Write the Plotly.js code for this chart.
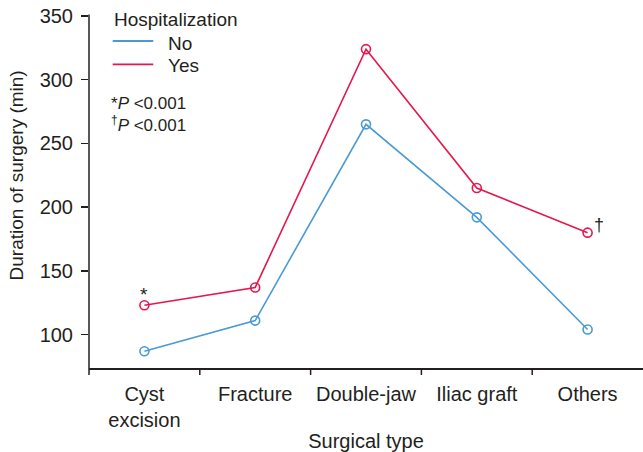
<!DOCTYPE html>
<html><head><meta charset="utf-8">
<script src="https://cdn.plot.ly/plotly-3.0.1.min.js"></script>
<style>html,body{margin:0;padding:0;background:#fff;}#chart{width:643px;height:452px;}</style>
</head><body><div id="chart"></div>
<script>
const categories = ["Cyst<br>excision", "Fracture", "Double-jaw", "Iliac graft", "Others"];
const noValues = [87, 111, 265, 192, 104];
const yesValues = [123, 137, 324, 215, 180];
const yTicks = [100, 150, 200, 250, 300, 350];
const seriesNames = ["No", "Yes"];

const blue = "#4a9ad4";
const red = "#e4184c";
const ink = "#231f20";
const font = "Liberation Sans, Arial, sans-serif";
const xIdx = categories.map((_, i) => i);

const traces = [
  {x: xIdx, y: noValues, type: "scatter", mode: "lines+markers", name: seriesNames[0], showlegend: false,
   line: {color: blue, width: 1.6}, marker: {symbol: "circle-open", size: 9, color: blue, line: {width: 1.6}}},
  {x: xIdx, y: yesValues, type: "scatter", mode: "lines+markers", name: seriesNames[1], showlegend: false,
   line: {color: red, width: 1.6}, marker: {symbol: "circle-open", size: 9, color: red, line: {width: 1.6}}}
];

// pixel helpers for paper coordinates (plot area: l=89, t=16, w=554, h=352)
const px = v => (v - 89) / 554;
const py = v => (368 - v) / 352;

const shapes = [0.5, 1.5, 2.5, 3.5].map(v => ({
  type: "line", xref: "x", yref: "paper", x0: v, x1: v, y0: 0, y1: -7 / 352,
  line: {color: ink, width: 1.5}
}));
// y axis line (slightly extended past the x axis as in the reference)
shapes.push({type: "line", xref: "paper", yref: "paper", x0: 0, x1: 0, y0: -7 / 352, y1: 1 + 1.5 / 352,
  line: {color: ink, width: 1.5}});
// legend swatches
shapes.push({type: "line", xref: "paper", yref: "paper", x0: px(112.7), x1: px(153.3), y0: py(41), y1: py(41),
  line: {color: blue, width: 1.8}});
shapes.push({type: "line", xref: "paper", yref: "paper", x0: px(112.7), x1: px(153.3), y0: py(64.3), y1: py(64.3),
  line: {color: red, width: 1.8}});

const layout = {
  width: 643, height: 452,
  margin: {l: 89, r: 0, t: 16, b: 84},
  paper_bgcolor: "#fff", plot_bgcolor: "#fff",
  font: {family: font, size: 19, color: ink},
  showlegend: false,
  xaxis: {
    range: [-0.5, 4.5], tickmode: "array", tickvals: xIdx, ticktext: categories,
    showgrid: false, zeroline: false, showline: true, linecolor: ink, linewidth: 1.5,
    ticks: "", tickfont: {size: 20, color: ink}, ticklabelstandoff: 7,
    title: {text: "Surgical type", font: {size: 20, color: ink}, standoff: 4}
  },
  yaxis: {
    range: [73.8, 350], tickvals: yTicks, showgrid: false, zeroline: false,
    showline: false,
    ticks: "outside", ticklen: 7, tickwidth: 1.5, tickcolor: ink,
    tickfont: {size: 20, color: ink}, ticklabelstandoff: 4
  },
  shapes: shapes,
  annotations: [
    {xref: "paper", yref: "paper", x: -0.131, y: py(175), xanchor: "center", yanchor: "middle",
     text: "Duration of surgery (min)", textangle: -90, showarrow: false, font: {size: 19, color: ink}},
    {xref: "paper", yref: "paper", x: px(112), y: py(20), xanchor: "left", yanchor: "middle",
     text: "Hospitalization", showarrow: false, font: {size: 19, color: ink}},
    {xref: "paper", yref: "paper", x: px(165.5), y: py(43.3), xanchor: "left", yanchor: "middle",
     text: seriesNames[0], showarrow: false, font: {size: 19, color: ink}},
    {xref: "paper", yref: "paper", x: px(165.5), y: py(65.7), xanchor: "left", yanchor: "middle",
     text: seriesNames[1], showarrow: false, font: {size: 19, color: ink}},
    {xref: "paper", yref: "paper", x: px(108.5), y: py(103), xanchor: "left", yanchor: "middle",
     text: "*<i>P</i> <0.001", showarrow: false, font: {size: 17, color: ink}},
    {xref: "paper", yref: "paper", x: px(108.5), y: py(124), xanchor: "left", yanchor: "middle",
     text: "<sup>†</sup><i>P</i> <0.001", showarrow: false, font: {size: 17, color: ink}},
    {xref: "x", yref: "y", x: 0, y: yesValues[0], yshift: 11, text: "*", showarrow: false, font: {size: 19, color: ink}},
    {xref: "x", yref: "y", x: 4, y: yesValues[4], xshift: 11, yshift: 8, text: "†", showarrow: false, font: {size: 18, color: ink}}
  ]
};

Plotly.newPlot("chart", traces, layout, {displayModeBar: false, staticPlot: true});
</script></body></html>
